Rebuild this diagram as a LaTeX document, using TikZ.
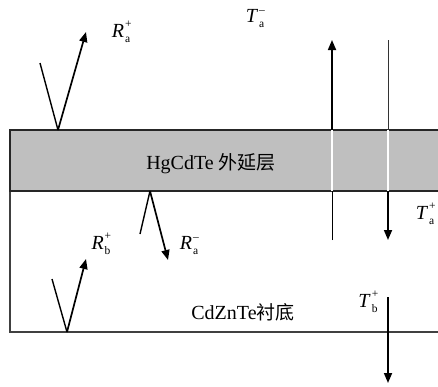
\documentclass[tikz,border=0pt]{standalone}
\usepackage{fontspec}
\setmainfont{Liberation Serif}
\newfontfamily\cjk{Noto Sans CJK SC}
\usetikzlibrary{arrows.meta}
\newcommand\scr[1]{{\fontsize{11.5}{12}\selectfont #1}}
\newcommand\lbl[3]{\textit{#1}\kern1pt\rlap{\raisebox{9.5pt}{\scr{#2}}}\raisebox{-5pt}{\scr{#3}}}
\tikzset{
  lab/.style={font=\fontsize{20}{22}\selectfont, inner sep=0pt},
  ray/.style={line width=1.7pt, -{Triangle[length=10pt,width=8pt]}},
  inc/.style={line width=1.4pt},
  frame/.style={line width=2pt, draw=black!85},
  gap/.style={white, line width=1.2pt},
}
\begin{document}
\begin{tikzpicture}[x=1pt,y=-1pt]
\clip (0,0) rectangle (438,386);
\fill[white] (0,0) rectangle (438,386);
% layers
\fill[gray!50] (10,130) rectangle (445,191);
\draw[line width=1.3pt, draw=black!75] (10,191) -- (10,332) -- (445,332);
\draw[frame] (445,130) -- (10,130) -- (10,191) -- (445,191);
\node[lab] (epi) at (211,164) {HgCdTe {\cjk\fontsize{19}{22}\selectfont 外延层}};
\node[lab] (sub) at (243,312) {CdZnTe{\cjk\fontsize{19}{22}\selectfont 衬底}};
% R_a^+
\coordinate (a0) at (40,63);
\coordinate (a1) at (58,130);
\coordinate (a2) at (86,32);
\draw[inc] (a0) -- (a1);
\draw[ray] (a1) -- (a2);
\node[lab] (Rap) at (121,32) {\lbl{R}{+}{a}};
% R_a^-
\coordinate (b0) at (140,234);
\coordinate (b1) at (150,191);
\coordinate (b2) at (168,260);
\draw[inc] (b0) -- (b1);
\draw[ray] (b1) -- (b2);
\node[lab] (Ram) at (189,246) {\lbl{R}{--}{a}};
% R_b^+
\coordinate (c0) at (52,279);
\coordinate (c1) at (67,332);
\coordinate (c2) at (86,259);
\draw[inc] (c0) -- (c1);
\draw[ray] (c1) -- (c2);
\node[lab] (Rbp) at (101,244) {\lbl{R}{+}{b}};
% T_a^-
\coordinate (d0) at (332,240);
\coordinate (d1) at (332,191);
\coordinate (d2) at (332,130);
\coordinate (d3) at (332,40);
\draw[inc, line width=1pt] (d0) -- (d1);
\draw[gap] (d1) -- (d2);
\draw[ray] (d2) -- (d3);
\node[lab] (Tam) at (255,19) {\lbl{T}{--}{a}};
% T_a^+
\coordinate (e0) at (388,40);
\coordinate (e1) at (388,130);
\coordinate (e2) at (388,191);
\coordinate (e3) at (388,240);
\draw[inc, line width=1pt, draw=black!80] (e0) -- (e1);
\draw[gap] (e1) -- (e2);
\draw[ray] (e2) -- (e3);
\node[lab] (Tap) at (425,214) {\lbl{T}{+}{a}};
% T_b^+
\coordinate (f0) at (388,297);
\coordinate (f1) at (388,383);
\draw[ray] (f0) -- (f1);
\node[lab] (Tbp) at (368,302) {\lbl{T}{+}{b}};
\end{tikzpicture}
\end{document}
